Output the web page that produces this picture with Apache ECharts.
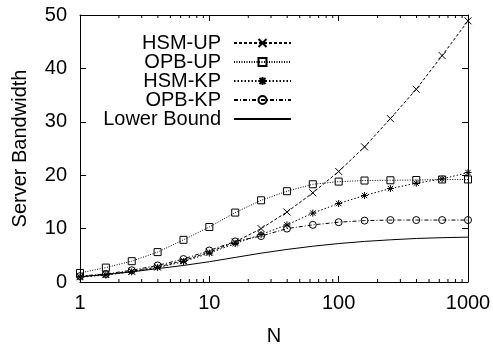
<!DOCTYPE html>
<html>
<head>
<meta charset="utf-8">
<script src="https://cdn.jsdelivr.net/npm/echarts@6/dist/echarts.min.js"></script>
<style>html,body{margin:0;padding:0;background:#fff}#c{width:493px;height:346px}</style>
</head>
<body>
<div id="c"></div>
<script>
var nValues = [1, 1.585, 2.512, 3.981, 6.310, 10, 15.85, 25.12, 39.81, 63.10, 100, 158.5, 251.2, 398.1, 631.0, 1000];
var hsmUP = [1.0, 1.4, 2.0, 2.8, 4.0, 5.6, 7.5, 10.0, 13.1, 16.7, 20.7, 25.3, 30.6, 36.1, 42.4, 48.9];
var opbUP = [1.7, 2.7, 3.9, 5.6, 7.9, 10.3, 13.0, 15.3, 17.0, 18.3, 18.8, 19.0, 19.05, 19.1, 19.2, 19.2];
var hsmKP = [0.9, 1.3, 1.9, 2.7, 3.8, 5.4, 7.2, 8.9, 10.7, 12.9, 14.7, 16.2, 17.5, 18.5, 19.3, 20.5];
var opbKP = [1.1, 1.5, 2.2, 3.1, 4.3, 5.9, 7.6, 8.6, 10.0, 10.7, 11.2, 11.5, 11.6, 11.6, 11.6, 11.6];
var lowerBound = [1.0, 1.4, 1.9, 2.5, 3.1, 3.8, 4.6, 5.4, 6.1, 6.7, 7.2, 7.6, 7.9, 8.15, 8.3, 8.4];
var seriesNames = ['HSM-UP', 'OPB-UP', 'HSM-KP', 'OPB-KP', 'Lower Bound'];
var minorTickValues = [2,3,4,5,6,7,8,9,20,30,40,50,60,70,80,90,200,300,400,500,600,700,800,900];
var yTicks = [0, 10, 20, 30, 40, 50];

function pairs(arr) { return nValues.map(function (n, i) { return [n, arr[i]]; }); }

var FONT = 'Liberation Sans';
var crossPath = 'path://M0,0L10,10M10,0L0,10';
var starPath = 'path://M5,0L5,10M0,5L10,5M1.2,1.2L8.8,8.8M8.8,1.2L1.2,8.8';

function lineSeries(name, data, symbol, dash, noSym) {
  return {
    name: name, type: 'line', data: pairs(data),
    symbol: symbol, symbolSize: 7,
    showSymbol: !noSym,
    lineStyle: { color: '#000', width: 1, type: dash, opacity: 1 },
    itemStyle: { color: 'transparent', borderColor: noSym ? 'transparent' : '#000', borderWidth: noSym ? 0 : 1 },
    emphasis: { disabled: true },
    animation: false, z: 3
  };
}

var axisLineStyle = { show: true, onZero: false, lineStyle: { color: '#000', width: 1 } };
var tickStyle = { show: true, inside: true, length: 6, lineStyle: { color: '#000' } };

var chart = echarts.init(document.getElementById('c'), null, { renderer: 'canvas' });
chart.setOption({
  animation: false,
  grid: { left: 80, right: 25, top: 15, bottom: 64, containLabel: false, outerBoundsMode: 'none' },
  legend: {
    data: seriesNames, orient: 'vertical', align: 'right',
    right: 196, top: 28, itemWidth: 57, itemHeight: 10, itemGap: -1,
    formatter: function (name) { return '{t|' + name + '}'; },
    textStyle: {
      fontFamily: FONT, fontSize: 20, color: '#000',
      rich: { t: { fontFamily: FONT, fontSize: 20, color: '#000', lineHeight: 19, padding: [0, 8, 0, 0] } }
    },
    selectedMode: false
  },
  xAxis: [{
    type: 'log', logBase: 10, min: 1, max: 1000,
    name: 'N', nameLocation: 'middle', nameGap: 44,
    nameTextStyle: { fontFamily: FONT, fontSize: 20, color: '#000' },
    axisLine: axisLineStyle, axisTick: tickStyle,
    axisLabel: { fontFamily: FONT, fontSize: 20, color: '#000', margin: 11,
      formatter: function (v) { return String(Math.round(v)); } },
    splitLine: { show: false }
  }, {
    type: 'log', logBase: 10, min: 1, max: 1000, position: 'top',
    axisLine: axisLineStyle, axisTick: tickStyle,
    axisLabel: { show: false }, splitLine: { show: false }
  }],
  yAxis: [{
    type: 'value', min: yTicks[0], max: yTicks[yTicks.length - 1], interval: 10,
    name: 'Server Bandwidth', nameLocation: 'middle', nameGap: 50,
    nameTextStyle: { fontFamily: FONT, fontSize: 20, color: '#000' },
    axisLine: axisLineStyle, axisTick: tickStyle,
    axisLabel: { fontFamily: FONT, fontSize: 20, color: '#000', margin: 13 },
    splitLine: { show: false }
  }, {
    type: 'value', min: 0, max: 50, interval: 10, position: 'right',
    axisLine: axisLineStyle, axisTick: tickStyle,
    axisLabel: { show: false }, splitLine: { show: false }
  }],
  series: [
    lineSeries('HSM-UP', hsmUP, crossPath, [3, 2]),
    lineSeries('OPB-UP', opbUP, 'rect', [1, 1.5]),
    lineSeries('HSM-KP', hsmKP, starPath, [1.5, 2]),
    lineSeries('OPB-KP', opbKP, 'circle', [4, 2, 1, 2]),
    lineSeries('Lower Bound', lowerBound, 'none', 'solid', true),
    {
      type: 'custom', name: 'minorTicks', silent: true, animation: false,
      data: minorTickValues.map(function (v) { return [v, 0]; }),
      renderItem: function (params, api) {
        var b = api.coord([api.value(0), 0]);
        var t = api.coord([api.value(0), 50]);
        var st = { stroke: '#000', lineWidth: 1 };
        return { type: 'group', children: [
          { type: 'line', shape: { x1: b[0], y1: b[1], x2: b[0], y2: b[1] - 3 }, style: st },
          { type: 'line', shape: { x1: t[0], y1: t[1], x2: t[0], y2: t[1] + 3 }, style: st }
        ] };
      },
      clip: false, z: 1
    }
  ]
});
</script>
</body>
</html>
